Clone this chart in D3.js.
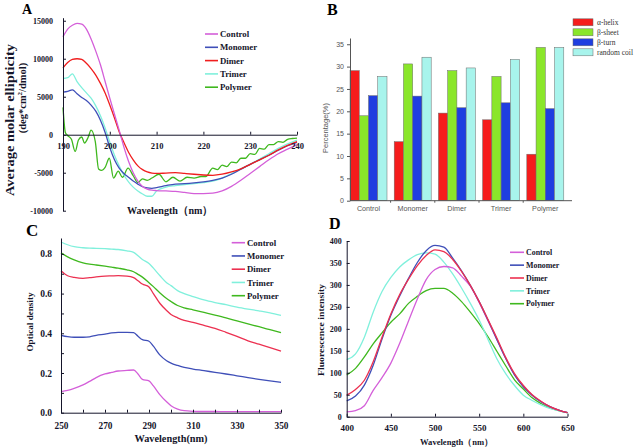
<!DOCTYPE html>
<html><head><meta charset="utf-8">
<script src="https://cdn.jsdelivr.net/npm/d3@7"></script>
<style>body{margin:0;background:#fff}svg{display:block}</style>
</head><body><svg id="c" width="635" height="448"></svg>
<script>
// ---------- shared ----------
const seriesNames = ["Control", "Monomer", "Dimer", "Trimer", "Polymer"];

// ---------- Panel A : CD spectra ----------
const aWl = [190,191,192,193,194,195,196,197,198,199,200,201,202,203,204,205,206,207,208,209,210,
             212,214,216,218,220,222,224,226,228,230,232,234,236,238,240];
const aControl = [12900,13900,14400,14650,14550,13900,12600,11000,9200,7000,4800,2700,600,-1600,-3500,-5000,-6100,-6800,-7150,-7300,-7350,
                  -7400,-7450,-7600,-7750,-7750,-7700,-7400,-6800,-6000,-5100,-4200,-3300,-2500,-1900,-1300];
const aMonomer = [5600,5700,5900,5400,4900,4500,3900,3100,1900,300,-1700,-3300,-4400,-5100,-5600,-6100,-6500,-6850,-7000,-7050,-6950,
                  -6700,-6500,-6450,-6350,-6200,-6000,-5700,-5200,-4550,-3900,-3300,-2700,-2050,-1450,-1000];
const aDimer = [8800,9500,9900,10000,9900,9400,8700,7850,6750,5500,3900,2200,400,-1000,-2300,-3300,-4100,-4600,-4900,-5050,-5100,
                -5050,-5000,-5100,-5200,-5300,-5350,-5200,-4900,-4500,-3900,-3300,-2700,-2000,-1400,-900];
const aTrimer = [7400,7500,8000,7000,6200,5500,4800,3800,2500,900,-1000,-2700,-4100,-5300,-6200,-6900,-7400,-7800,-8100,-8100,-7400,
                 -6900,-6700,-6550,-6450,-6300,-6100,-5700,-5100,-4500,-3900,-3200,-2500,-1800,-1200,-700];
const aPolyWl = [190,190.5,191,191.8,192.6,193.3,194,194.6,195.4,196,196.9,197.6,198.3,199,199.9,200.8,201.8,202.7,203.9,
                 205,206,207,208,209,210.5,212,213.5,215,216.5,218,219.5,220.5,222,223,224,225,226,227,228,229,230,231,232,233,234,235,236,237,238,239,240];
const aPolymer = [3600,300,-100,-600,-2200,-700,-300,-1100,-300,600,-900,-4500,-4700,-4300,-3100,-5700,-4800,-5600,-4400,
                  -5400,-6300,-5800,-6000,-5700,-5200,-6200,-5600,-6100,-5600,-5700,-5500,-5500,-4400,-4600,-4000,-4200,-3600,-3700,-3100,-3100,-2500,-2600,-1800,-1900,-1300,-1300,-900,-1000,-600,-500,-450];
const aYTicks = [-10000,-5000,0,5000,10000,15000];
const aXTicks = [190,200,210,220,230,240];

// ---------- Panel B : secondary structure ----------
const bCategories = ["Control", "Monomer", "Dimer", "Trimer", "Polymer"];
const bStructures = ["α-helix", "β-sheet", "β-turn", "random coil"];
const bHelix  = [29.1, 13.2, 19.6, 18.1, 10.4];
const bSheet  = [19.0, 30.6, 29.1, 27.8, 34.3];
const bTurn   = [23.5, 23.4, 20.8, 21.9, 20.6];
const bCoil   = [27.8, 32.1, 29.7, 31.6, 34.3];
const bYTicks = [0,5,10,15,20,25,30,35];

// ---------- Panel C : UV absorbance ----------
const cWl = [250,253,256,260,263,266,270,273,276,280,283,285,287,290,292,295,298,300,303,306,310,315,320,325,330,335,340,345,350];
const cControl = [0.106,0.112,0.122,0.14,0.158,0.177,0.195,0.203,0.21,0.213,0.215,0.195,0.168,0.16,0.135,0.09,0.055,0.035,0.018,0.01,0.007,0.006,0.006,0.005,0.005,0.005,0.005,0.005,0.005];
const cMonomer = [0.39,0.383,0.38,0.38,0.382,0.39,0.396,0.402,0.405,0.405,0.403,0.385,0.368,0.36,0.335,0.29,0.262,0.25,0.238,0.228,0.22,0.212,0.203,0.195,0.186,0.177,0.168,0.16,0.153];
const cDimer = [0.715,0.69,0.682,0.677,0.68,0.684,0.688,0.689,0.69,0.688,0.68,0.665,0.648,0.633,0.60,0.55,0.515,0.495,0.478,0.465,0.455,0.44,0.425,0.405,0.384,0.362,0.345,0.328,0.31];
const cTrimer = [0.86,0.846,0.836,0.831,0.829,0.828,0.826,0.824,0.822,0.815,0.808,0.79,0.772,0.752,0.728,0.69,0.655,0.64,0.615,0.60,0.585,0.568,0.555,0.544,0.532,0.522,0.513,0.503,0.49];
const cPolymer = [0.805,0.785,0.77,0.755,0.748,0.744,0.738,0.733,0.728,0.72,0.71,0.697,0.683,0.655,0.635,0.603,0.575,0.56,0.54,0.528,0.518,0.505,0.492,0.478,0.462,0.447,0.433,0.418,0.403];
const cXTicks = [250,260,270,280,290,300,310,320,330,340,350];
const cYTicks = [0,0.1,0.2,0.3,0.4,0.5,0.6,0.7,0.8];

// ---------- Panel D : fluorescence ----------
const dWl = [400,410,420,430,440,450,460,470,480,490,500,510,520,530,540,550,560,570,580,590,600,610,620,630,640,650];
const dControl = [11,14,25,60,89,122,167,218,268,312,335,342,339,320,297,260,218,176,133,96,70,49,34,23,15,9];
const dMonomer = [36,47,72,117,177,231,275,315,351,378,390,386,361,332,299,262,220,176,133,95,68,49,34,23,15,9];
const dDimer   = [49,62,83,125,181,234,278,313,344,367,380,376,358,331,299,262,221,179,135,98,71,50,35,23,15,9];
const dTrimer  = [130,143,181,238,285,317,341,357,369,373,370,352,325,293,258,220,176,132,98,71,49,37,27,19,14,9];
const dPolymer = [95,110,136,166,191,215,234,258,274,287,292,292,281,262,238,212,182,149,116,84,63,43,30,20,14,9];
const dXTicks = [400,450,500,550,600,650];
const dYTicks = [0,50,100,150,200,250,300,350,400];

// ---------- drawing ----------
const svg = d3.select("#c");
svg.append("rect").attr("width",635).attr("height",448).attr("fill","#fff");
const SERIF = "'Liberation Serif','Times New Roman',serif";
const SANS = "'Liberation Sans',Arial,sans-serif";
const INK = "#15152a";

function styleAxis(g, fs, font, color) {
  g.select(".domain").attr("stroke", color).attr("stroke-width", 1);
  g.selectAll(".tick line").attr("stroke", color).attr("stroke-width", 1);
  g.selectAll(".tick text").attr("fill", color).attr("font-family", font)
    .attr("font-size", fs).attr("font-weight", font === SERIF ? "bold" : "normal");
}

function legend(g, colors, x1, x2, tx, y0, dy, fs) {
  seriesNames.forEach((n, i) => {
    const y = y0 + i * dy;
    g.append("line").attr("x1", x1).attr("x2", x2).attr("y1", y).attr("y2", y)
      .attr("stroke", colors[i]).attr("stroke-width", 1.6);
    g.append("text").attr("x", tx).attr("y", y).attr("dy", "0.35em")
      .attr("font-family", SERIF).attr("font-weight", "bold").attr("font-size", fs)
      .attr("fill", INK).text(n);
  });
}

function panelLabel(t, x, y, fs) {
  svg.append("text").attr("x", x).attr("y", y).attr("font-family", SERIF)
    .attr("font-weight", "bold").attr("font-size", fs).attr("fill", "#000").text(t);
}

function rotText(t, x, y, fs, len) {
  const e = svg.append("text").attr("transform", `translate(${x},${y}) rotate(-90)`)
    .attr("text-anchor", "middle").attr("font-family", SERIF).attr("font-weight", "bold")
    .attr("font-size", fs).attr("fill", INK).text(t);
  if (len) e.attr("textLength", len).attr("lengthAdjust", "spacingAndGlyphs");
  return e;
}

// ===== Panel A =====
{
  const colors = ["#d45fd9", "#3f4fb8", "#f01e1e", "#80f0dc", "#3fb81e"];
  const x = d3.scaleLinear().domain([190, 240]).range([63, 297]);
  const y = d3.scaleLinear().domain([-10000, 15400]).range([210.7, 17.7]);
  const g = svg.append("g");
  const series = [
    [aWl, aControl], [aWl, aMonomer], [aWl, aDimer], [aWl, aTrimer], [aPolyWl, aPolymer]
  ];
  const line = d3.line().x(d => x(d[0])).y(d => y(d[1])).curve(d3.curveMonotoneX);
  [4, 3, 1, 2, 0].forEach(i => {
    const [xs, ys] = series[i];
    g.append("path").attr("d", line(xs.map((v, k) => [v, ys[k]])))
      .attr("fill", "none").attr("stroke", colors[i]).attr("stroke-width", 1.3);
  });
  const ya = g.append("g").attr("transform", "translate(63,0)")
    .call(d3.axisLeft(y).tickValues(aYTicks).tickSize(-3).tickSizeOuter(0).tickPadding(10).tickFormat(d => String(d)));
  styleAxis(ya, 8, SERIF, INK);
  const xa = g.append("g").attr("transform", `translate(0,${y(0)})`)
    .call(d3.axisBottom(x).tickValues(aXTicks).tickSize(-3).tickSizeOuter(0).tickPadding(8.5));
  styleAxis(xa, 8.5, SERIF, INK);
  legend(g, colors, 205, 218, 220, 34, 13.3, 8.8);
  svg.append("text").attr("x", 170).attr("y", 214).attr("text-anchor", "middle")
    .attr("font-family", SERIF).attr("font-weight", "bold").attr("font-size", 10.5).attr("fill", INK)
    .attr("textLength", 86).attr("lengthAdjust", "spacingAndGlyphs").text("Wavelength（nm）");
  rotText("Average molar ellipticity", 13.5, 120, 12.5, 152);
  const t2 = svg.append("text").attr("transform", "translate(26,98) rotate(-90)")
    .attr("text-anchor", "middle").attr("font-family", SERIF).attr("font-weight", "bold")
    .attr("font-size", 10.5).attr("fill", INK);
  t2.append("tspan").text("(deg*cm");
  t2.append("tspan").attr("font-size", 7).attr("dy", -4).text("2");
  t2.append("tspan").attr("dy", 4).text("/dmol)");
  panelLabel("A", 22, 14, 14);
}

// ===== Panel B =====
{
  const colors = ["#f51c1c", "#8ae62a", "#1f3ee0", "#a8f4ec"];
  const values = [bHelix, bSheet, bTurn, bCoil];
  const x0 = d3.scaleBand().domain(bCategories).range([350, 563.8]).paddingInner(0.163).paddingOuter(0);
  const x1 = d3.scaleBand().domain(bStructures).range([0, x0.bandwidth()]);
  const y = d3.scaleLinear().domain([0, 36.4]).range([200.7, 38]);
  const g = svg.append("g");
  bCategories.forEach((c, ci) => {
    bStructures.forEach((s, si) => {
      const v = values[si][ci];
      g.append("rect").attr("x", x0(c) + x1(s)).attr("width", x1.bandwidth())
        .attr("y", y(v)).attr("height", y(0) - y(v))
        .attr("fill", colors[si]).attr("stroke", "#6a6a6a").attr("stroke-width", 0.5);
    });
  });
  const ya = g.append("g").attr("transform", "translate(350,0)")
    .call(d3.axisLeft(y).tickValues(bYTicks).tickSize(3).tickSizeOuter(0).tickPadding(3));
  styleAxis(ya, 7, SANS, "#555");
  g.append("line").attr("x1", 350).attr("x2", 572).attr("y1", y(0)).attr("y2", y(0))
    .attr("stroke", "#555").attr("stroke-width", 1);
  bCategories.forEach((c, ci) => {
    g.append("text").attr("x", x0(c) + x0.bandwidth() / 2).attr("y", 211).attr("text-anchor", "middle")
      .attr("font-family", SANS).attr("font-size", 7.2).attr("fill", "#555").text(c);
    if (ci > 0) {
      const bx = x0(c) - (x0.step() - x0.bandwidth()) / 2;
      g.append("line").attr("x1", bx).attr("x2", bx).attr("y1", y(0)).attr("y2", y(0) + 2)
        .attr("stroke", "#555");
    }
  });
  svg.append("text").attr("transform", "translate(328,128) rotate(-90)").attr("text-anchor", "middle")
    .attr("font-family", SANS).attr("font-size", 7.5).attr("fill", "#555").text("Percentage(%)");
  bStructures.forEach((s, i) => {
    const yy = 22.3 + i * 10;
    g.append("rect").attr("x", 573).attr("y", yy - 3.5).attr("width", 20).attr("height", 7)
      .attr("fill", colors[i]).attr("stroke", "#6a6a6a").attr("stroke-width", 0.5);
    g.append("text").attr("x", 597).attr("y", yy).attr("dy", "0.35em")
      .attr("font-family", SERIF).attr("font-size", 7.5).attr("fill", "#333").text(s);
  });
  panelLabel("B", 327, 15, 16);
}

// ===== Panel C =====
{
  const colors = ["#d45fd9", "#3f4fb8", "#ec3050", "#80f0dc", "#3fb81e"];
  const x = d3.scaleLinear().domain([250, 350]).range([61, 281]);
  const y = d3.scaleLinear().domain([0, 0.88]).range([412.7, 238]);
  const g = svg.append("g");
  const ys = [cControl, cMonomer, cDimer, cTrimer, cPolymer];
  const line = d3.line().x(d => x(d[0])).y(d => y(d[1])).curve(d3.curveMonotoneX);
  [0, 1, 2, 4, 3].forEach(i => {
    g.append("path").attr("d", line(cWl.map((v, k) => [v, ys[i][k]])))
      .attr("fill", "none").attr("stroke", colors[i]).attr("stroke-width", 1.3);
  });
  const ya = g.append("g").attr("transform", "translate(61,0)")
    .call(d3.axisLeft(y).tickValues(cYTicks).tickSize(-3).tickSizeOuter(0).tickPadding(9)
      .tickFormat(d => Math.round(d * 10) % 2 === 0 ? d.toFixed(1) : ""));
  styleAxis(ya, 9.5, SERIF, INK);
  const xa = g.append("g").attr("transform", `translate(0,${y(0)})`)
    .call(d3.axisBottom(x).tickValues(cXTicks).tickSize(-3).tickSizeOuter(0).tickPadding(9.5)
      .tickFormat(d => (d - 250) % 20 === 0 ? String(d) : ""));
  styleAxis(xa, 9.3, SERIF, INK);
  legend(g, colors, 231.7, 245, 247, 242.7, 13.25, 8.8);
  svg.append("text").attr("x", 171).attr("y", 441.5).attr("text-anchor", "middle")
    .attr("font-family", SERIF).attr("font-weight", "bold").attr("font-size", 9.3).attr("fill", INK)
    .attr("textLength", 73).attr("lengthAdjust", "spacingAndGlyphs").text("Wavelength(nm)");
  rotText("Optical density", 33, 322, 9.2, 59);
  panelLabel("C", 26, 236, 17);
}

// ===== Panel D =====
{
  const colors = ["#d45fd9", "#3f4fb8", "#ec3050", "#80f0dc", "#3fb81e"];
  const x = d3.scaleLinear().domain([400, 650]).range([346.7, 567.5]);
  const y = d3.scaleLinear().domain([0, 400]).range([416.7, 241]);
  const g = svg.append("g");
  const ys = [dControl, dMonomer, dDimer, dTrimer, dPolymer];
  const line = d3.line().x(d => x(d[0])).y(d => y(d[1])).curve(d3.curveMonotoneX);
  [4, 3, 0, 1, 2].forEach(i => {
    g.append("path").attr("d", line(dWl.map((v, k) => [v, ys[i][k]])))
      .attr("fill", "none").attr("stroke", colors[i]).attr("stroke-width", 1.3);
  });
  const ya = g.append("g").attr("transform", "translate(346.7,0)")
    .call(d3.axisLeft(y).tickValues(dYTicks).tickSize(-3).tickSizeOuter(0).tickPadding(5));
  styleAxis(ya, 8, SERIF, INK);
  const xa = g.append("g").attr("transform", `translate(0,${y(0)})`)
    .call(d3.axisBottom(x).tickValues(dXTicks).tickSize(-3).tickSizeOuter(0).tickPadding(7.5));
  styleAxis(xa, 9, SERIF, INK);
  legend(g, colors, 510, 524, 526, 252.3, 12.85, 7.9);
  svg.append("text").attr("x", 456.5).attr("y", 445).attr("text-anchor", "middle")
    .attr("font-family", SERIF).attr("font-weight", "bold").attr("font-size", 8.7).attr("fill", INK)
    .attr("textLength", 73).attr("lengthAdjust", "spacingAndGlyphs").text("Wavelength（nm）");
  rotText("Fluorescence intensity", 324, 330, 9, 92);
  panelLabel("D", 329, 229, 16);
}
</script></body></html>
